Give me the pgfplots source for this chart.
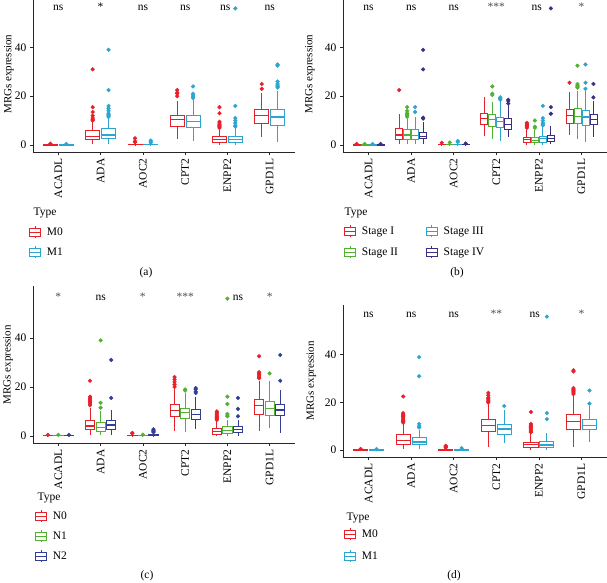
\documentclass[border=0pt]{standalone}
\usepackage{fontspec}
\setmainfont{Liberation Serif}
\usepackage{pgfplots}
\pgfplotsset{compat=1.18}
\usepgfplotslibrary{statistics}
\definecolor{cR}{RGB}{232,32,42}
\definecolor{cC}{RGB}{44,165,208}
\definecolor{cG}{RGB}{82,176,51}
\definecolor{cP}{RGB}{58,46,128}
\definecolor{cN}{RGB}{50,62,150}
\newcommand\lbl{\fontsize{11.5}{13}\selectfont}
\newcommand\ylbl{\fontsize{11}{13}\selectfont}
\pgfplotsset{
  panel/.style={
    scale only axis, anchor=south west,
    xmin=0.4, xmax=6.6, ymin=-2.9, ymax=61,
    axis lines*=left,
    axis line style={black!85, line width=0.6pt},
    tick style={black!85, line width=0.6pt},
    tick align=outside, major tick length=3pt,
    xtick={1,2,3,4,5,6},
    xticklabels={ACADL,ADA,AOC2,CPT2,ENPP2,GPD1L},
    xticklabel style={rotate=90, anchor=east, font=\lbl},
    ytick={0,20,40},
    yticklabel style={font=\lbl},
    /pgf/number format/assume math mode=true,
    ylabel={MRGs expression},
    ylabel style={font=\ylbl, anchor=center},
    boxplot/draw direction=y,
    boxplot/whisker extend=0,
    boxplot/every median/.style={line width=1.3pt},
    boxplot/every box/.style={line width=0.8pt},
    boxplot/every whisker/.style={line width=0.8pt},
    legend cell align=left,
    legend style={draw=none, fill=none, font=\lbl, inner sep=0pt, outer sep=0pt,
      nodes={inner sep=1pt}, anchor=north west,
      /tikz/every odd column/.append style={column sep=5pt}},
  },
  R/.style={draw=cR, mark=*, mark size=1.9pt, mark options={draw=cR, fill=cR}, forget plot},
  C/.style={draw=cC, mark=*, mark size=1.9pt, mark options={draw=cC, fill=cC}, forget plot},
  G/.style={draw=cG, mark=*, mark size=1.9pt, mark options={draw=cG, fill=cG}, forget plot},
  P/.style={draw=cP, mark=*, mark size=1.9pt, mark options={draw=cP, fill=cP}, forget plot},
  N/.style={draw=cN, mark=*, mark size=1.9pt, mark options={draw=cN, fill=cN}, forget plot},
  bkey/.style={legend image code/.code={
    \draw[#1, line width=0.8pt] (0pt,-4pt) rectangle (11pt,4pt);
    \draw[#1, line width=0.8pt] (0pt,0pt) -- (11pt,0pt) (5.5pt,4pt) -- (5.5pt,6pt) (5.5pt,-4pt) -- (5.5pt,-6pt);
  }},
}
\begin{document}
\begin{tikzpicture}[x=1pt,y=1pt]
\useasboundingbox (0,0) rectangle (607,582);
% ---------------- (a) ----------------
\begin{axis}[panel, at={(33pt,430pt)}, width=262pt, height=155.8pt,
  boxplot/box extend=0.33,
  ylabel style={at={(axis description cs:-0.092,0.5)}},
  legend style={at={(axis description cs:-0.015,-0.475)}, row sep=7pt}]
\addplot[R, boxplot prepared={draw position=0.8125, lower whisker=0, lower quartile=0, median=0.05, upper quartile=0.15, upper whisker=0.3}] coordinates {(0,0.5)};
\addplot[C, boxplot prepared={draw position=1.1875, lower whisker=0, lower quartile=0, median=0.05, upper quartile=0.15, upper whisker=0.3}] coordinates {(0,0.4)};
\addplot[R, boxplot prepared={draw position=1.8125, lower whisker=0.3, lower quartile=2.1, median=3.4, upper quartile=5.9, upper whisker=9.5}] coordinates {(0,10) (0,10.5) (0,11) (0,12) (0,13.5) (0,15.5) (0,31)};
\addplot[C, boxplot prepared={draw position=2.1875, lower whisker=0.3, lower quartile=2.5, median=4.1, upper quartile=6.6, upper whisker=11}] coordinates {(0,11.5) (0,12) (0,12.5) (0,13) (0,14) (0,15) (0,16) (0,22.5) (0,39)};
\addplot[R, boxplot prepared={draw position=2.8125, lower whisker=0, lower quartile=0.05, median=0.15, upper quartile=0.4, upper whisker=0.9}] coordinates {(0,1.1) (0,1.5) (0,2.7)};
\addplot[C, boxplot prepared={draw position=3.1875, lower whisker=0, lower quartile=0.05, median=0.15, upper quartile=0.35, upper whisker=0.8}] coordinates {(0,0.9) (0,1.2) (0,1.8)};
\addplot[R, boxplot prepared={draw position=3.8125, lower whisker=2.5, lower quartile=7.8, median=10.4, upper quartile=12.3, upper whisker=18.2}] coordinates {(0,20) (0,21) (0,21.5) (0,22.5)};
\addplot[C, boxplot prepared={draw position=4.1875, lower whisker=1.8, lower quartile=7.3, median=9.7, upper quartile=12.0, upper whisker=18.5}] coordinates {(0,19.2) (0,19.8) (0,20.5) (0,21) (0,24)};
\addplot[R, boxplot prepared={draw position=4.8125, lower whisker=0, lower quartile=1.1, median=2.1, upper quartile=3.3, upper whisker=6.5}] coordinates {(0,7) (0,7.5) (0,8) (0,8.5) (0,9) (0,9.5) (0,13) (0,15.5)};
\addplot[C, boxplot prepared={draw position=5.1875, lower whisker=0, lower quartile=1.1, median=2.3, upper quartile=3.4, upper whisker=7}] coordinates {(0,7.5) (0,8) (0,9) (0,10) (0,11) (0,16) (0,56)};
\addplot[R, boxplot prepared={draw position=5.8125, lower whisker=3.3, lower quartile=8.9, median=12.1, upper quartile=14.5, upper whisker=21.5}] coordinates {(0,23) (0,25)};
\addplot[C, boxplot prepared={draw position=6.1875, lower whisker=1.2, lower quartile=8.2, median=11.5, upper quartile=14.4, upper whisker=22}] coordinates {(0,23.5) (0,24) (0,24.5) (0,25) (0,26) (0,32.5) (0,33)};
\addlegendimage{bkey=cR}\addlegendentry{M0}
\addlegendimage{bkey=cC}\addlegendentry{M1}
\node[font=\lbl, anchor=base] at (axis cs:1,55.3) {ns};
\node[font=\lbl, anchor=base] at (axis cs:2,55.3) {*};
\node[font=\lbl, anchor=base] at (axis cs:3,55.3) {ns};
\node[font=\lbl, anchor=base] at (axis cs:4,55.3) {ns};
\node[font=\lbl, anchor=base] at (axis cs:4.95,55.3) {ns};
\node[font=\lbl, anchor=base] at (axis cs:6,55.3) {ns};
\end{axis}
% ---------------- (b) ----------------
\begin{axis}[panel, at={(343pt,430pt)}, width=264pt, height=155.8pt,
  boxplot/box extend=0.165,
  ylabel style={at={(axis description cs:-0.125,0.5)}},
  legend columns=2,
  legend style={at={(axis description cs:0.004,-0.469)}, row sep=8pt,
    /tikz/every even column/.append style={column sep=27pt}}]
\addplot[R, boxplot prepared={draw position=0.71875, lower whisker=0, lower quartile=0, median=0.05, upper quartile=0.15, upper whisker=0.3}] coordinates {(0,0.4)};
\addplot[G, boxplot prepared={draw position=0.90625, lower whisker=0, lower quartile=0, median=0.05, upper quartile=0.15, upper whisker=0.3}] coordinates {(0,0.4)};
\addplot[C, boxplot prepared={draw position=1.09375, lower whisker=0, lower quartile=0, median=0.05, upper quartile=0.15, upper whisker=0.3}] coordinates {(0,0.4)};
\addplot[P, boxplot prepared={draw position=1.28125, lower whisker=0, lower quartile=0, median=0.05, upper quartile=0.15, upper whisker=0.3}] coordinates {(0,0.4)};
\addplot[R, boxplot prepared={draw position=1.71875, lower whisker=0.3, lower quartile=2.1, median=4.1, upper quartile=6.6, upper whisker=12.5}] coordinates {(0,22.5)};
\addplot[G, boxplot prepared={draw position=1.90625, lower whisker=0.3, lower quartile=2.3, median=4.1, upper quartile=6.2, upper whisker=10.7}] coordinates {(0,11.5) (0,12) (0,12.5) (0,13) (0,14) (0,15.5)};
\addplot[C, boxplot prepared={draw position=2.09375, lower whisker=0.5, lower quartile=2.1, median=3.8, upper quartile=6.2, upper whisker=11.4}] coordinates {(0,13.5) (0,15.5)};
\addplot[P, boxplot prepared={draw position=2.28125, lower whisker=0.5, lower quartile=2.5, median=3.6, upper quartile=5.2, upper whisker=9.3}] coordinates {(0,10.8) (0,11.2) (0,31) (0,39)};
\addplot[R, boxplot prepared={draw position=2.71875, lower whisker=0, lower quartile=0.05, median=0.15, upper quartile=0.4, upper whisker=0.7}] coordinates {(0,0.9)};
\addplot[G, boxplot prepared={draw position=2.90625, lower whisker=0, lower quartile=0.05, median=0.15, upper quartile=0.4, upper whisker=0.7}] coordinates {(0,1.0)};
\addplot[C, boxplot prepared={draw position=3.09375, lower whisker=0, lower quartile=0.05, median=0.15, upper quartile=0.4, upper whisker=0.7}] coordinates {(0,1.2) (0,1.6)};
\addplot[P, boxplot prepared={draw position=3.28125, lower whisker=0, lower quartile=0.05, median=0.15, upper quartile=0.4, upper whisker=0.5}] coordinates {(0,0.6)};
\addplot[R, boxplot prepared={draw position=3.71875, lower whisker=3.8, lower quartile=8.4, median=10.7, upper quartile=13, upper whisker=19.6}] coordinates {};
\addplot[G, boxplot prepared={draw position=3.90625, lower whisker=2.5, lower quartile=7.5, median=10.4, upper quartile=12.7, upper whisker=17.5}] coordinates {(0,20.5) (0,21) (0,24)};
\addplot[C, boxplot prepared={draw position=4.09375, lower whisker=1.6, lower quartile=7.1, median=9.7, upper quartile=11.4, upper whisker=18}] coordinates {(0,18.5) (0,19) (0,19.5)};
\addplot[P, boxplot prepared={draw position=4.28125, lower whisker=3.2, lower quartile=6.4, median=8.4, upper quartile=10.7, upper whisker=16.5}] coordinates {(0,17) (0,18) (0,18.5)};
\addplot[R, boxplot prepared={draw position=4.71875, lower whisker=0, lower quartile=1.1, median=2.1, upper quartile=3.2, upper whisker=6.3}] coordinates {(0,7) (0,7.5) (0,8) (0,8.5) (0,9)};
\addplot[G, boxplot prepared={draw position=4.90625, lower whisker=0, lower quartile=1.0, median=1.8, upper quartile=3.2, upper whisker=6.2}] coordinates {(0,7) (0,7.5) (0,10)};
\addplot[C, boxplot prepared={draw position=5.09375, lower whisker=0, lower quartile=1.1, median=2.5, upper quartile=3.4, upper whisker=7.2}] coordinates {(0,8) (0,8.5) (0,9) (0,10) (0,11) (0,16)};
\addplot[P, boxplot prepared={draw position=5.28125, lower whisker=0.3, lower quartile=1.4, median=2.5, upper quartile=3.8, upper whisker=7.9}] coordinates {(0,12.8) (0,15.5) (0,56)};
\addplot[R, boxplot prepared={draw position=5.71875, lower whisker=4.2, lower quartile=9, median=12.1, upper quartile=14.4, upper whisker=21.6}] coordinates {(0,25.5)};
\addplot[G, boxplot prepared={draw position=5.90625, lower whisker=2.5, lower quartile=9, median=11.8, upper quartile=14.8, upper whisker=22.3}] coordinates {(0,23.5) (0,24) (0,24.5) (0,25) (0,32.5)};
\addplot[C, boxplot prepared={draw position=6.09375, lower whisker=1.1, lower quartile=8.2, median=11.4, upper quartile=14.1, upper whisker=22}] coordinates {(0,23) (0,25.5) (0,33)};
\addplot[P, boxplot prepared={draw position=6.28125, lower whisker=3.4, lower quartile=8.4, median=10.3, upper quartile=12.5, upper whisker=18.2}] coordinates {(0,19.5) (0,25)};
\addlegendimage{bkey=cR}\addlegendentry{Stage I}
\addlegendimage{bkey=cC}\addlegendentry{Stage III}
\addlegendimage{bkey=cG}\addlegendentry{Stage II}
\addlegendimage{bkey=cP}\addlegendentry{Stage IV}
\node[font=\lbl, anchor=base] at (axis cs:1,55.3) {ns};
\node[font=\lbl, anchor=base] at (axis cs:2,55.3) {ns};
\node[font=\lbl, anchor=base] at (axis cs:3,55.3) {ns};
\node[font=\lbl, anchor=base, text=black!70] at (axis cs:4,55.3) {***};
\node[font=\lbl, anchor=base] at (axis cs:4.95,55.3) {ns};
\node[font=\lbl, anchor=base, text=black!70] at (axis cs:6,55.3) {*};
\end{axis}
% ---------------- (c) ----------------
\begin{axis}[panel, at={(33pt,139pt)}, width=262pt, height=156.6pt,
  boxplot/box extend=0.22,
  ylabel style={at={(axis description cs:-0.095,0.5)}},
  legend style={at={(axis description cs:0.008,-0.428)}, row sep=7pt}]
\addplot[R, boxplot prepared={draw position=0.75, lower whisker=0, lower quartile=0, median=0.05, upper quartile=0.15, upper whisker=0.3}] coordinates {(0,0.4)};
\addplot[G, boxplot prepared={draw position=1, lower whisker=0, lower quartile=0, median=0.05, upper quartile=0.15, upper whisker=0.3}] coordinates {(0,0.4)};
\addplot[N, boxplot prepared={draw position=1.25, lower whisker=0, lower quartile=0, median=0.05, upper quartile=0.15, upper whisker=0.3}] coordinates {(0,0.4)};
\addplot[R, boxplot prepared={draw position=1.75, lower whisker=0.3, lower quartile=2.5, median=4.1, upper quartile=6.3, upper whisker=11.3}] coordinates {(0,12.5) (0,13) (0,13.5) (0,14) (0,14.5) (0,15) (0,15.5) (0,16) (0,22.5)};
\addplot[G, boxplot prepared={draw position=2, lower whisker=0.3, lower quartile=1.8, median=3.5, upper quartile=5.6, upper whisker=10}] coordinates {(0,11.5) (0,13.5) (0,39)};
\addplot[N, boxplot prepared={draw position=2.25, lower whisker=0.5, lower quartile=2.7, median=4.5, upper quartile=6.3, upper whisker=10.6}] coordinates {(0,15.5) (0,31)};
\addplot[R, boxplot prepared={draw position=2.75, lower whisker=0, lower quartile=0.05, median=0.15, upper quartile=0.4, upper whisker=0.8}] coordinates {(0,1.0) (0,1.2)};
\addplot[G, boxplot prepared={draw position=3, lower whisker=0, lower quartile=0.05, median=0.15, upper quartile=0.3, upper whisker=0.4}] coordinates {(0,0.5)};
\addplot[N, boxplot prepared={draw position=3.25, lower whisker=0, lower quartile=0.05, median=0.2, upper quartile=0.6, upper whisker=1.2}] coordinates {(0,1.5) (0,1.8) (0,2.2) (0,2.7)};
\addplot[R, boxplot prepared={draw position=3.75, lower whisker=2.2, lower quartile=7.9, median=10.4, upper quartile=12.7, upper whisker=19.5}] coordinates {(0,20) (0,21) (0,22) (0,23) (0,24)};
\addplot[G, boxplot prepared={draw position=4, lower whisker=1.4, lower quartile=7, median=9.6, upper quartile=11.3, upper whisker=17.5}] coordinates {(0,18.5) (0,19)};
\addplot[N, boxplot prepared={draw position=4.25, lower whisker=3, lower quartile=6.6, median=8.6, upper quartile=10.9, upper whisker=16}] coordinates {(0,17.5) (0,18) (0,19) (0,19.5)};
\addplot[R, boxplot prepared={draw position=4.75, lower whisker=0, lower quartile=0.8, median=1.8, upper quartile=3.1, upper whisker=5.9}] coordinates {(0,6.5) (0,7) (0,7.5) (0,8) (0,8.5) (0,9) (0,9.5) (0,10)};
\addplot[G, boxplot prepared={draw position=5, lower whisker=0, lower quartile=1.1, median=2.2, upper quartile=3.8, upper whisker=6.6}] coordinates {(0,8) (0,8.5) (0,9) (0,13) (0,16) (0,56)};
\addplot[N, boxplot prepared={draw position=5.25, lower whisker=0, lower quartile=1.4, median=2.5, upper quartile=3.8, upper whisker=6.6}] coordinates {(0,8) (0,11) (0,15.5)};
\addplot[R, boxplot prepared={draw position=5.75, lower whisker=2.2, lower quartile=8.9, median=12.3, upper quartile=14.7, upper whisker=22.3}] coordinates {(0,23.5) (0,24) (0,24.5) (0,25) (0,25.5) (0,26) (0,32.5)};
\addplot[G, boxplot prepared={draw position=6, lower whisker=3.4, lower quartile=8.2, median=11.1, upper quartile=14.1, upper whisker=22.5}] coordinates {(0,25.5)};
\addplot[N, boxplot prepared={draw position=6.25, lower whisker=1.1, lower quartile=8.2, median=10.6, upper quartile=13, upper whisker=18.8}] coordinates {(0,22.5) (0,33)};
\addlegendimage{bkey=cR}\addlegendentry{N0}
\addlegendimage{bkey=cG}\addlegendentry{N1}
\addlegendimage{bkey=cN}\addlegendentry{N2}
\node[font=\lbl, anchor=base, text=black!70] at (axis cs:1,55.3) {*};
\node[font=\lbl, anchor=base] at (axis cs:2,55.3) {ns};
\node[font=\lbl, anchor=base, text=black!70] at (axis cs:3,55.3) {*};
\node[font=\lbl, anchor=base, text=black!70] at (axis cs:4,55.3) {***};
\node[font=\lbl, anchor=base] at (axis cs:5.25,55.3) {ns};
\node[font=\lbl, anchor=base, text=black!70] at (axis cs:6,55.3) {*};
\end{axis}
% ---------------- (d) ----------------
\begin{axis}[panel, at={(343pt,125pt)}, width=264pt, height=152.3pt,
  boxplot/box extend=0.33,
  ylabel style={at={(axis description cs:-0.12,0.5)}},
  legend style={at={(axis description cs:0.004,-0.466)}, row sep=9pt}]
\addplot[R, boxplot prepared={draw position=0.8125, lower whisker=0, lower quartile=0, median=0.05, upper quartile=0.15, upper whisker=0.3}] coordinates {(0,0.5)};
\addplot[C, boxplot prepared={draw position=1.1875, lower whisker=0, lower quartile=0, median=0.05, upper quartile=0.15, upper whisker=0.3}] coordinates {(0,0.4)};
\addplot[R, boxplot prepared={draw position=1.8125, lower whisker=0.5, lower quartile=2.2, median=4.1, upper quartile=6.4, upper whisker=11}] coordinates {(0,11.5) (0,12) (0,12.5) (0,13) (0,13.5) (0,14) (0,14.5) (0,15) (0,15.5) (0,22.5)};
\addplot[C, boxplot prepared={draw position=2.1875, lower whisker=0.5, lower quartile=2.2, median=3.4, upper quartile=5.3, upper whisker=8.5}] coordinates {(0,9.5) (0,10) (0,11) (0,31) (0,39)};
\addplot[R, boxplot prepared={draw position=2.8125, lower whisker=0, lower quartile=0.05, median=0.15, upper quartile=0.4, upper whisker=0.8}] coordinates {(0,1.0) (0,1.2) (0,1.5) (0,1.8)};
\addplot[C, boxplot prepared={draw position=3.1875, lower whisker=0, lower quartile=0.05, median=0.15, upper quartile=0.35, upper whisker=0.6}] coordinates {(0,0.8)};
\addplot[R, boxplot prepared={draw position=3.8125, lower whisker=1.5, lower quartile=7.8, median=10.3, upper quartile=12.7, upper whisker=19.5}] coordinates {(0,20) (0,20.5) (0,21) (0,21.5) (0,22) (0,23) (0,24)};
\addplot[C, boxplot prepared={draw position=4.1875, lower whisker=2.9, lower quartile=6.7, median=8.8, upper quartile=10.9, upper whisker=17}] coordinates {(0,18.5)};
\addplot[R, boxplot prepared={draw position=4.8125, lower whisker=0, lower quartile=1, median=2.2, upper quartile=3.2, upper whisker=7}] coordinates {(0,7.5) (0,8) (0,8.5) (0,9) (0,9.5) (0,10) (0,10.5) (0,11) (0,16)};
\addplot[C, boxplot prepared={draw position=5.1875, lower whisker=0, lower quartile=1.1, median=2.1, upper quartile=3.6, upper whisker=7}] coordinates {(0,13) (0,15.5) (0,56)};
\addplot[R, boxplot prepared={draw position=5.8125, lower whisker=1.3, lower quartile=8.8, median=12, upper quartile=15, upper whisker=22.5}] coordinates {(0,23.5) (0,24) (0,24.5) (0,25) (0,25.5) (0,26) (0,33) (0,33.5)};
\addplot[C, boxplot prepared={draw position=6.1875, lower whisker=3.2, lower quartile=8.5, median=10.2, upper quartile=12.7, upper whisker=18.5}] coordinates {(0,19.5) (0,25)};
\addlegendimage{bkey=cR}\addlegendentry{M0}
\addlegendimage{bkey=cC}\addlegendentry{M1}
\node[font=\lbl, anchor=base] at (axis cs:1,55.8) {ns};
\node[font=\lbl, anchor=base] at (axis cs:2,55.8) {ns};
\node[font=\lbl, anchor=base] at (axis cs:3,55.8) {ns};
\node[font=\lbl, anchor=base, text=black!70] at (axis cs:4,55.8) {**};
\node[font=\lbl, anchor=base] at (axis cs:4.9,55.8) {ns};
\node[font=\lbl, anchor=base, text=black!70] at (axis cs:6,55.8) {*};
\end{axis}
% titles and captions
\node[font=\lbl, anchor=west] at (30,369) {Type};
\node[font=\lbl, anchor=west] at (341,369) {Type};
\node[font=\lbl, anchor=west] at (34,84) {Type};
\node[font=\lbl, anchor=west] at (343,64) {Type};
\node[font=\lbl] at (146,309) {(a)};
\node[font=\lbl] at (457,309) {(b)};
\node[font=\lbl] at (147,6) {(c)};
\node[font=\lbl] at (454,6) {(d)};
\end{tikzpicture}
\end{document}
